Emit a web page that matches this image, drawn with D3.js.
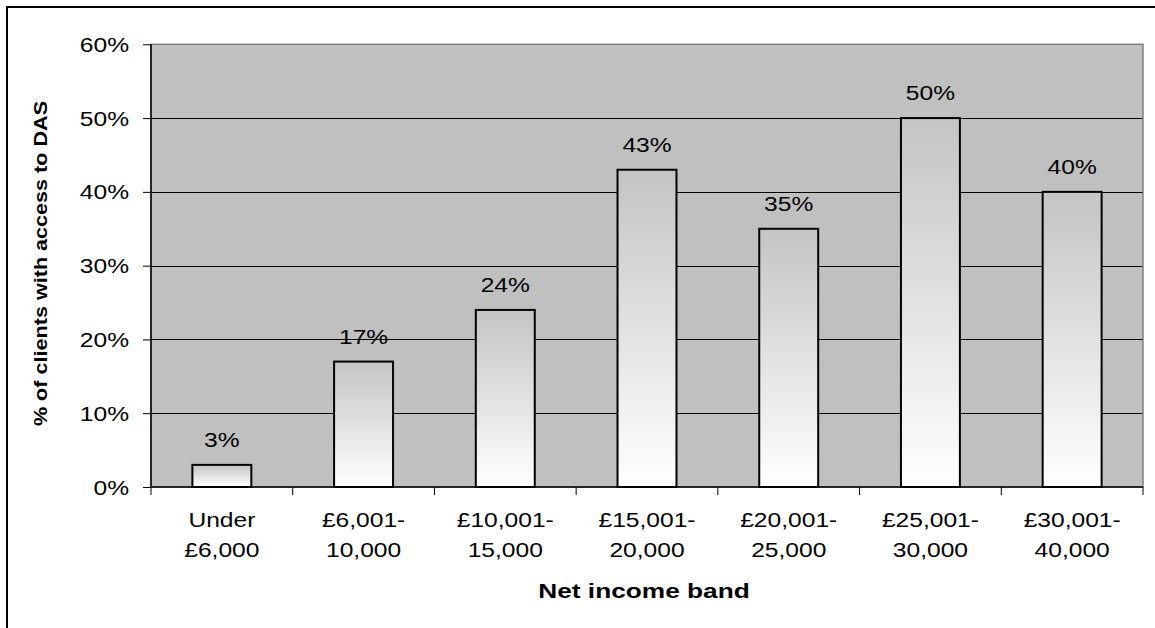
<!DOCTYPE html>
<html>
<head>
<meta charset="utf-8">
<script src="https://cdn.jsdelivr.net/npm/d3@7/dist/d3.min.js"></script>
<style>
  html, body { margin: 0; padding: 0; background: #fff; }
  svg { display: block; font-family: "Liberation Sans", Arial, sans-serif; }
</style>
</head>
<body>
<svg id="chart" width="1155" height="628"></svg>
<script>
const categories = [["Under", "£6,000"], ["£6,001-", "10,000"], ["£10,001-", "15,000"], ["£15,001-", "20,000"], ["£20,001-", "25,000"], ["£25,001-", "30,000"], ["£30,001-", "40,000"]];
const values = [0.03, 0.17, 0.24, 0.43, 0.35, 0.50, 0.40];
const yTicks = [0, 0.1, 0.2, 0.3, 0.4, 0.5, 0.6];
const xTitle = "Net income band";
const yTitle = "% of clients with access to DAS";

const svg = d3.select("#chart");
const SX = 1.2; // horizontal stretch of text as in reference

const plot = { left: 151, right: 1143, top: 44.3, bottom: 487 };
const keys = categories.map(c => c.join(" "));

const x = d3.scaleBand().domain(keys).range([plot.left, plot.right]).paddingInner(0.584).paddingOuter(0.292);
const y = d3.scaleLinear().domain([0, 0.6]).range([plot.bottom, plot.top]);
const fmt = d3.format(".0%");

// outer frame
svg.append("rect").attr("x", 7).attr("y", 7).attr("width", 1170).attr("height", 650)
  .attr("fill", "none").attr("stroke", "#000").attr("stroke-width", 2);

// gradient
const defs = svg.append("defs");
const grad = defs.append("linearGradient").attr("id", "barGrad").attr("x1", 0).attr("y1", 0).attr("x2", 0).attr("y2", 1);
grad.append("stop").attr("offset", "0%").attr("stop-color", "#c4c4c4");
grad.append("stop").attr("offset", "100%").attr("stop-color", "#ffffff");

// plot background
svg.append("rect").attr("x", plot.left).attr("y", plot.top)
  .attr("width", plot.right - plot.left).attr("height", plot.bottom - plot.top)
  .attr("fill", "#c0c0c0");

// gridlines
svg.append("g").selectAll("line").data(yTicks.filter(t => t > 0 && t < 0.6)).join("line")
  .attr("x1", plot.left).attr("x2", plot.right)
  .attr("y1", d => Math.round(y(d)) + 0.5).attr("y2", d => Math.round(y(d)) + 0.5)
  .attr("stroke", "#000").attr("stroke-width", 1);

// plot border (gray)
svg.append("rect").attr("x", plot.left).attr("y", plot.top)
  .attr("width", plot.right - plot.left).attr("height", plot.bottom - plot.top)
  .attr("fill", "none").attr("stroke", "#808080").attr("stroke-width", 1.5);

// bars
svg.append("g").selectAll("rect").data(values).join("rect")
  .attr("x", (d, i) => x(keys[i]))
  .attr("y", d => y(d))
  .attr("width", x.bandwidth())
  .attr("height", d => y(0) - y(d))
  .attr("fill", "url(#barGrad)")
  .attr("stroke", "#000").attr("stroke-width", 2);

// y axis
const yAxis = d3.axisLeft(y).tickValues(yTicks).tickFormat(fmt).tickSize(8).tickPadding(0);
const gy = svg.append("g").attr("transform", `translate(${plot.left},0)`).call(yAxis);
gy.select(".domain").attr("stroke", "#000").attr("stroke-width", 1.5).attr("d", `M0,${plot.top}V${plot.bottom}`);
gy.selectAll(".tick line").attr("stroke", "#000").attr("stroke-width", 1);
gy.selectAll(".tick text").attr("x", null).attr("dy", null)
  .attr("transform", `translate(-22,7) scale(${SX},1)`)
  .attr("font-size", 20.5).attr("fill", "#000").attr("font-family", "Liberation Sans, Arial, sans-serif");

// x axis line & boundary ticks
svg.append("line").attr("x1", plot.left).attr("x2", plot.right).attr("y1", plot.bottom).attr("y2", plot.bottom)
  .attr("stroke", "#000").attr("stroke-width", 1.5);
const bounds = d3.range(keys.length + 1).map(i => plot.left + i * x.step());
svg.append("g").selectAll("line").data(bounds).join("line")
  .attr("x1", d => d).attr("x2", d => d).attr("y1", plot.bottom).attr("y2", plot.bottom + 8)
  .attr("stroke", "#000").attr("stroke-width", 1);

// x labels
const xl = svg.append("g").selectAll("g").data(categories).join("g");
xl.each(function(c, i) {
  const cx = x(keys[i]) + x.bandwidth() / 2;
  c.forEach((line, j) => {
    d3.select(this).append("text")
      .attr("transform", `translate(${cx},${527 + j * 30}) scale(${SX},1)`)
      .attr("text-anchor", "middle").attr("font-size", 20.5).attr("fill", "#000")
      .text(line);
  });
});

// data labels
svg.append("g").selectAll("text").data(values).join("text")
  .attr("transform", (d, i) => `translate(${x(keys[i]) + x.bandwidth() / 2},${y(d) - 18}) scale(${SX},1)`)
  .attr("text-anchor", "middle").attr("font-size", 20.5).attr("fill", "#000")
  .text(d => fmt(d));

// axis titles
svg.append("text")
  .attr("transform", `translate(${(plot.left + plot.right) / 2 - 3},598) scale(1.25,1)`)
  .attr("text-anchor", "middle").attr("font-size", 21).attr("font-weight", "bold").attr("fill", "#000")
  .text(xTitle);
svg.append("text")
  .attr("transform", `translate(47,${(100 + 427) / 2}) rotate(-90) scale(${SX},1)`)
  .attr("text-anchor", "middle").attr("font-size", 18).attr("font-weight", "bold").attr("fill", "#000")
  .text(yTitle);
</script>
</body>
</html>
